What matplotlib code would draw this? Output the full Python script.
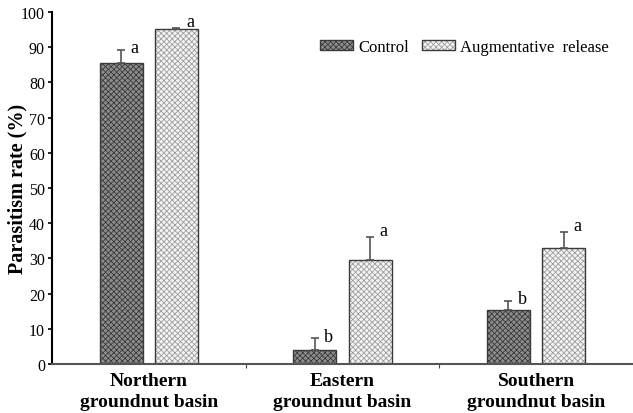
import numpy as np
import matplotlib.pyplot as plt

plt.rcParams['font.family'] = ['Liberation Serif', 'DejaVu Serif']
plt.rcParams['hatch.linewidth'] = 0.6

regions = ['Northern\ngroundnut basin', 'Eastern\ngroundnut basin', 'Southern\ngroundnut basin']
control = [85.5, 4.0, 15.3]
control_err = [3.8, 3.3, 2.7]
release = [95.0, 29.5, 33.0]
release_err = [0.3, 6.5, 4.5]
control_letters = ['a', 'b', 'b']
release_letters = ['a', 'a', 'a']

x = np.arange(len(regions))
w = 0.222
off = 0.143

fig = plt.figure(figsize=(6.33, 4.14), dpi=100)
ax = fig.add_axes([0.082, 0.118, 0.918, 0.851])

plt.rcParams['hatch.color'] = '#333333'
err_style = dict(ecolor='#555555', elinewidth=1.2, capsize=3, capthick=1.2)
b1 = ax.bar(x - off, control, w, yerr=[np.zeros(3), control_err], color='#8c8c8c',
            edgecolor='#3a3a3a', linewidth=1.0, hatch='xxxxxx', label='Control',
            error_kw=err_style)
b2 = ax.bar(x + off, release, w, yerr=[np.zeros(3), release_err], color='#f4f4f4',
            edgecolor='#3a3a3a', linewidth=1.0, label='Augmentative  release',
            error_kw=err_style)
for p in b2:
    p.set_hatch('xxxxxx')
    p._hatch_color = (0.62, 0.62, 0.62, 1.0)

for i in range(3):
    ax.text(x[i] - off + 0.05, control[i] + control_err[i] - 1.8, control_letters[i],
            fontsize=13, va='bottom', ha='left')
    ax.text(x[i] + off + 0.05, release[i] + release_err[i] - 0.5, release_letters[i],
            fontsize=13, va='bottom', ha='left')

ax.set_xlim(-0.5, 2.5)
ax.set_ylim(0, 100)
ax.set_yticks(np.arange(0, 101, 10))
ax.set_yticklabels([str(v) for v in range(0, 101, 10)], fontsize=11.5)
ax.set_xticks([0.5, 1.5])
ax.set_xticklabels(['', ''])
ax.set_xticks(x, minor=True)
ax.set_xticklabels(regions, minor=True, fontsize=14, fontweight='bold', linespacing=1.3)
ax.tick_params(axis='x', which='minor', length=0, pad=6)
ax.tick_params(axis='x', which='major', length=3, color='#444444')
ax.tick_params(axis='y', length=3, width=1.2, pad=2)
ax.set_ylabel('Parasitism rate (%)', fontsize=14.5, fontweight='bold')
ax.yaxis.set_label_coords(-0.042, 0.5)

ax.spines['top'].set_visible(False)
ax.spines['right'].set_visible(False)
ax.spines['left'].set_linewidth(1.5)
ax.spines['bottom'].set_color('#555555')
ax.spines['bottom'].set_linewidth(1.5)

ax.legend(loc='center left', bbox_to_anchor=(0.435, 0.9), ncol=2, frameon=False,
          fontsize=12, handlelength=2.0, handleheight=0.55, columnspacing=0.8,
          handletextpad=0.3)

fig.savefig('out.png')
